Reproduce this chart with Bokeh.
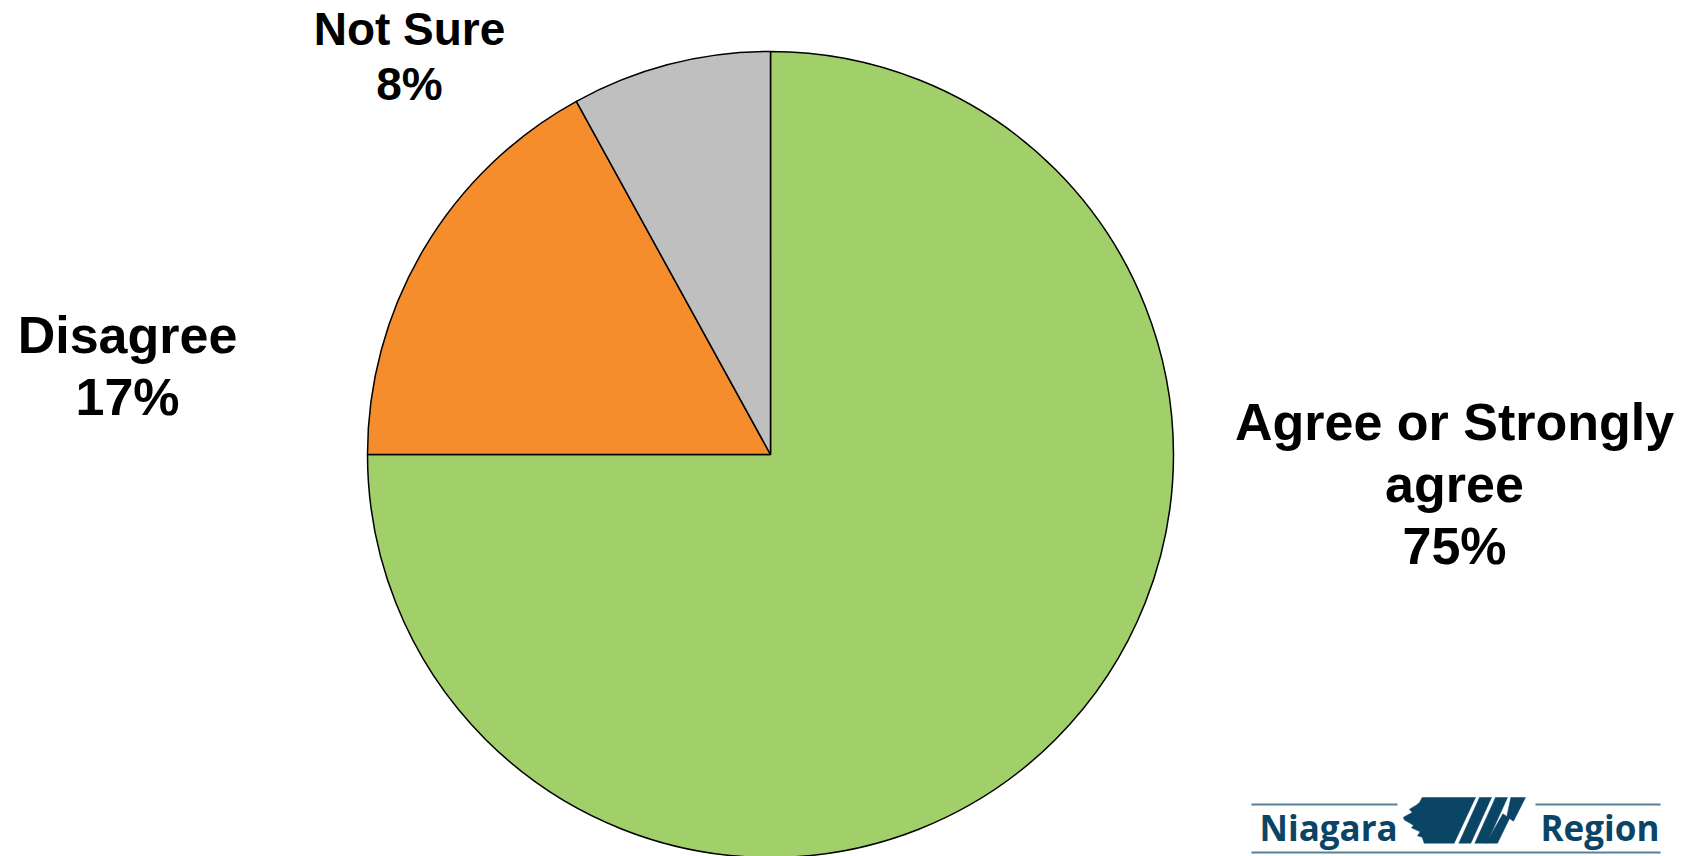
import numpy as np
from bokeh.plotting import figure
from bokeh.models import Range1d, ColumnDataSource
from bokeh.core.properties import value
from bokeh.embed import file_html
from bokeh.resources import INLINE

# ---- data ----
categories = ["Agree or Strongly\nagree", "Disagree", "Not Sure"]
percents = [75, 17, 8]
colors = ["#A1CF6A", "#F68D2C", "#BFBFBF"]

# ---- layout (pixel coordinates, origin top-left) ----
W, H = 1688, 856
def X(px):
    return px
def Y(py):
    return H - py

pie_cx, pie_cy, pie_r = X(770), Y(454), 403
label_pos = [(1454, 392), (127, 305), (409, 2)]   # top centre of each label block
label_size = ["52px", "52px", "46px"]

p = figure(width=W, height=H, x_range=Range1d(0, W), y_range=Range1d(0, H),
           output_backend="svg", toolbar_location=None, min_border=0)
p.axis.visible = False
p.grid.visible = False
p.outline_line_color = None
p.background_fill_color = "white"
p.border_fill_color = "white"

frac = np.array(percents, dtype=float) / np.sum(percents)
c1 = np.cumsum(frac)
c0 = c1 - frac
start = np.pi / 2 - 2 * np.pi * c1
end = np.pi / 2 - 2 * np.pi * c0

src = ColumnDataSource(dict(start=start, end=end, color=colors))
p.wedge(x=pie_cx, y=pie_cy, radius=pie_r, start_angle="start", end_angle="end",
        fill_color="color", line_color="black", line_width=1.5, source=src)

lab_text = [f"{c}\n{v}%" for c, v in zip(categories, percents)]
lsrc = ColumnDataSource(dict(
    x=[X(a) for a, b in label_pos], y=[Y(b) for a, b in label_pos],
    text=lab_text, size=label_size))
p.text(x="x", y="y", text="text", source=lsrc, text_font=value("Liberation Sans"),
       text_font_style="bold", text_font_size="size", text_align="center",
       text_baseline="top", text_line_height=1.07, text_color="black")

# ---- Niagara Region logo ----
logo_dark = "#0B4566"
logo_line = "#5A7F99"
def zx(v):
    return X(1395 + v / 3)
def zy(v):
    return Y(790 + v / 3)
shape1 = [(80, 21), (240, 21), (176, 158), (86, 158), (80, 140), (66, 136), (74, 124),
          (48, 112), (54, 104), (26, 88), (24, 80), (50, 66), (42, 56), (62, 44), (72, 36)]
shape2 = [(252, 21), (288, 21), (226, 158), (190, 158)]
shape3 = [(300, 21), (336, 21), (274, 158), (238, 158)]
shape4 = [(346, 21), (390, 21), (354, 92), (342, 84), (306, 158), (272, 158), (322, 70), (334, 78)]
xs, ys = [], []
for s in (shape1, shape2, shape3, shape4):
    xs.append([zx(a) for a, b in s])
    ys.append([zy(b) for a, b in s])
p.patches(xs=xs, ys=ys, fill_color=logo_dark, line_color=logo_dark, line_width=0.5)

p.segment(x0=[X(1251), X(1535), X(1251)], y0=[Y(804), Y(804), Y(852)],
          x1=[X(1397), X(1660), X(1660)], y1=[Y(804), Y(804), Y(852)],
          line_color=logo_line, line_width=2)
p.text(x=[X(1259), X(1540)], y=[Y(803), Y(803)], text=["Niagara", "Region"],
       text_font=value("Open Sans"), text_font_style="bold", text_font_size="35px",
       text_align="left", text_baseline="top", text_color=logo_dark)

open("out.html", "w").write(file_html(p, INLINE))
